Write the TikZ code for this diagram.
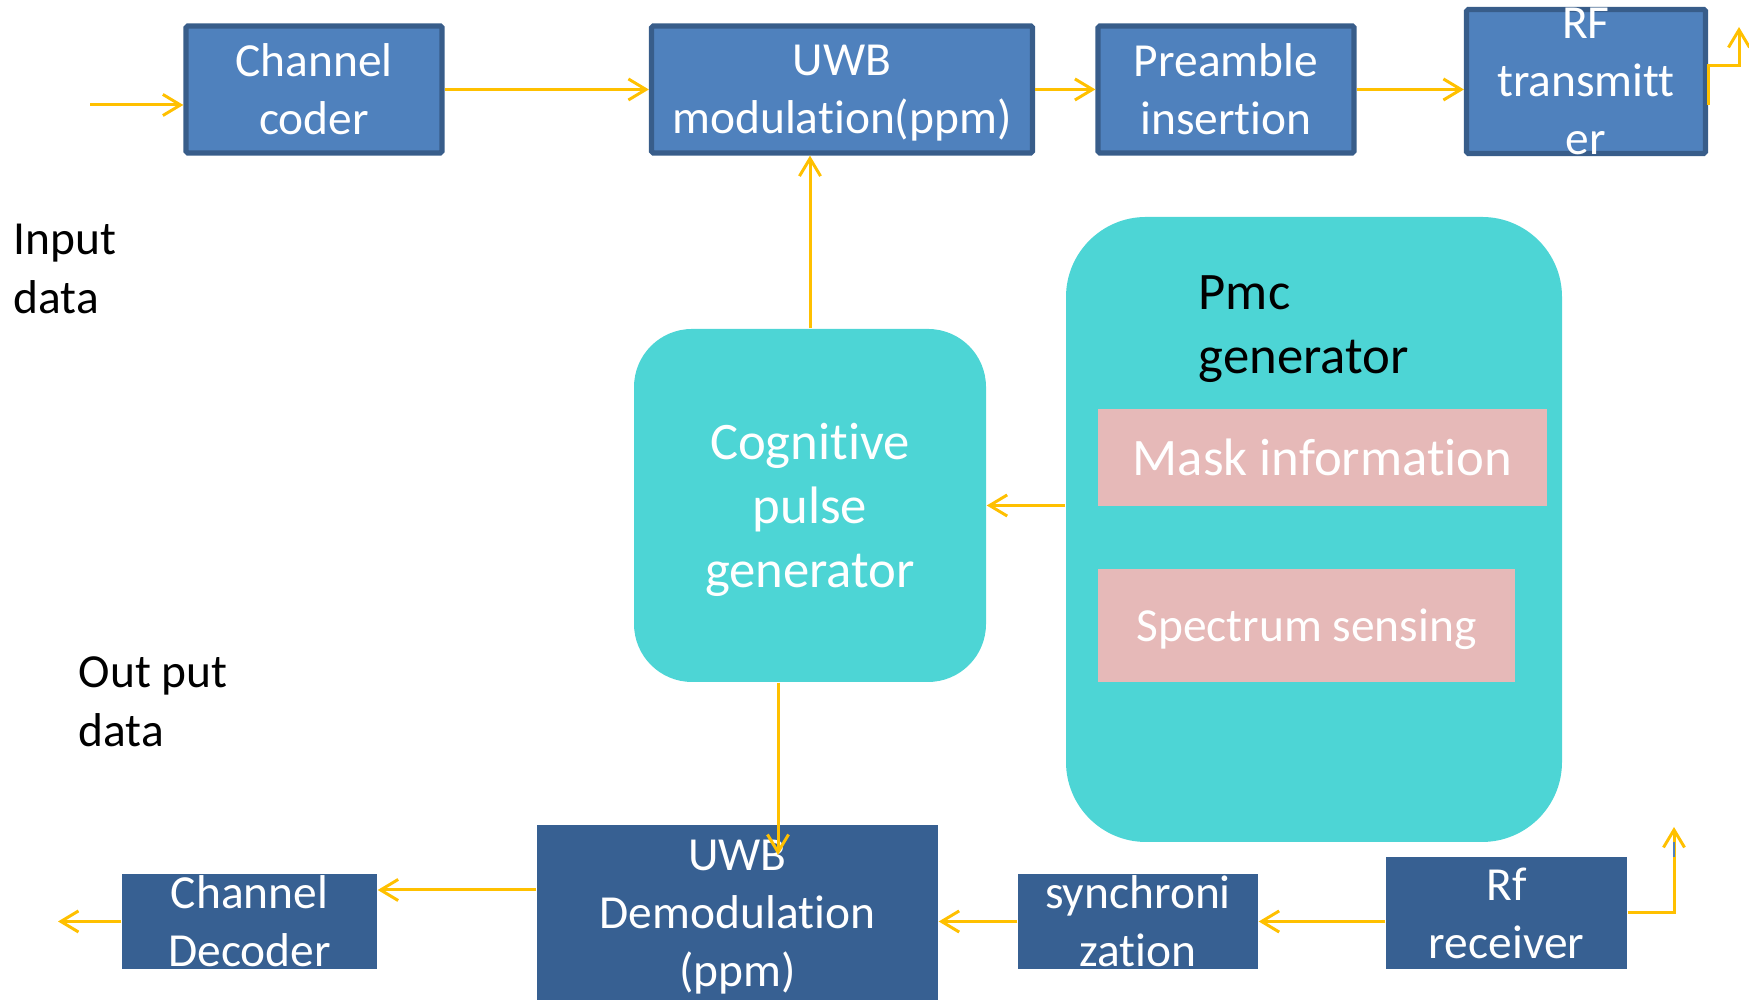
\documentclass[tikz,border=0pt]{standalone}
\usepackage{fontspec}
\setmainfont{Carlito}[Ligatures={NoCommon}]
\usepackage{tikz}
\usetikzlibrary{arrows.meta}

\definecolor{txblue}{HTML}{4F81BD}
\definecolor{txedge}{HTML}{385D8A}
\definecolor{rxblue}{HTML}{376092}
\definecolor{cogteal}{HTML}{4DD5D5}
\definecolor{maskpink}{HTML}{E6B9B8}
\definecolor{linkyellow}{HTML}{FFC000}

\begin{document}
\begin{tikzpicture}[
  txbox/.style={draw=txedge,line width=1.5pt,fill=txblue,text=white,align=center,inner xsep=0pt,inner ysep=-20pt,rounded corners=0.5pt,font=\fontsize{13.5}{16.5}\selectfont},
  rxbox/.style={fill=rxblue,text=white,align=center,inner xsep=0pt,inner ysep=-20pt,font=\fontsize{13.5}{16.5}\selectfont},
  tealbox/.style={fill=cogteal,align=center,inner sep=0pt},
  pinkbox/.style={fill=maskpink,text=white,inner sep=0pt},
  link/.style={draw=linkyellow,line width=0.85pt,-{Straight Barb[length=5pt,width=6pt]}},
  side/.style={align=left,inner sep=0pt,anchor=north west,font=\fontsize{13.5}{16.8}\selectfont}
]

\useasboundingbox (0,0) rectangle (17.49,10);

% sender
\node [txbox,minimum width=2.56cm,minimum height=1.27cm] (coder) at (3.14,9.105) {Channel\\coder};
\node [txbox,minimum width=3.81cm,minimum height=1.27cm] (uwbmod) at (8.42,9.105) {UWB\\\smash{modulation(ppm)}};
\node [txbox,minimum width=2.56cm,minimum height=1.27cm] (pre) at (12.26,9.105) {Preamble\\insertion};
\node [txbox,minimum width=2.39cm,minimum height=1.44cm] (rftx) at (15.86,9.185) {RF\\transmitt\\er};

% pulse shaping
\node [tealbox,minimum width=4.96cm,minimum height=6.25cm,rounded corners=0.8cm] (pmc) at (13.14,4.705) {};
\node [anchor=north west,inner sep=0pt,align=left,font=\fontsize{15}{18.2}\selectfont] (pmctext) at (11.98,7.25) {Pmc\\generator};
\node [pinkbox,minimum width=4.49cm,minimum height=0.97cm,font=\fontsize{15}{18}\selectfont] (mask) at (13.225,5.425) {Mask information};
\node [pinkbox,minimum width=4.17cm,minimum height=1.13cm,text depth=0pt,font=\fontsize{13.5}{16.5}\selectfont] (sense) at (13.065,3.745) {Spectrum sensing};
\node [tealbox,text=white,minimum width=3.52cm,minimum height=3.53cm,rounded corners=0.58cm,font=\fontsize{15}{18.2}\selectfont] (cog) at (8.10,4.945) {Cognitive\\pulse\\\smash{generator}};

% receiver
\node [rxbox,minimum width=4.01cm,minimum height=1.85cm] (demod) at (7.375,0.825) {UWB\\Demodulation\\(ppm)};
\node [rxbox,minimum width=2.55cm,minimum height=0.95cm] (dec) at (2.495,0.785) {Channel\\Decoder};
\node [rxbox,minimum width=2.40cm,minimum height=0.95cm] (sync) at (11.38,0.785) {synchroni\\zation};
\node [rxbox,minimum width=2.41cm,minimum height=1.12cm] (rfrx) at (15.065,0.87) {Rf\\receiver};

\node [side] (indata) at (0.13,7.77) {Input\\data};
\node [side] (outdata) at (0.78,3.44) {Out put\\data};

% links
\coordinate (in) at (0.90,8.95);
\draw [link] (in) -- (in -| coder.west);
\draw [link] (coder.east) -- (uwbmod.west);
\draw [link] (uwbmod.east) -- (pre.west);
\draw [link] (pre.east) -- (pre.east -| rftx.west);
\coordinate (txbend) at (17.39,9.34);
\coordinate (txout) at (17.39,9.73);
\draw [link] ([yshift=-2.35mm]rftx.east) |- (txbend) -- (txout);

\draw [link] (cog.east -| pmc.west) -- (cog.east);
\draw [link] (cog.north) -- (cog.north |- uwbmod.south);
\coordinate (demin) at (7.78,1.45);
\draw [link] (cog.south -| demin) -- (demin);

\draw [link] (rfrx.west |- sync.east) -- (sync.east);
\draw [link] (sync.west) -- (sync.west -| demod.east);
\coordinate (decin) at ([yshift=3.15mm]dec.east);
\draw [link] (decin -| demod.west) -- (decin);
\coordinate (out) at (0.58,0.785);
\draw [link] (dec.west) -- (out);
\coordinate (rxin) at (16.74,1.73);
\draw [link] (rfrx.east) -| (rxin);
\draw [txblue,line width=0.6pt] ([yshift=-1.5mm]rxin) -- ([yshift=-3mm]rxin);

\end{tikzpicture}
\end{document}
